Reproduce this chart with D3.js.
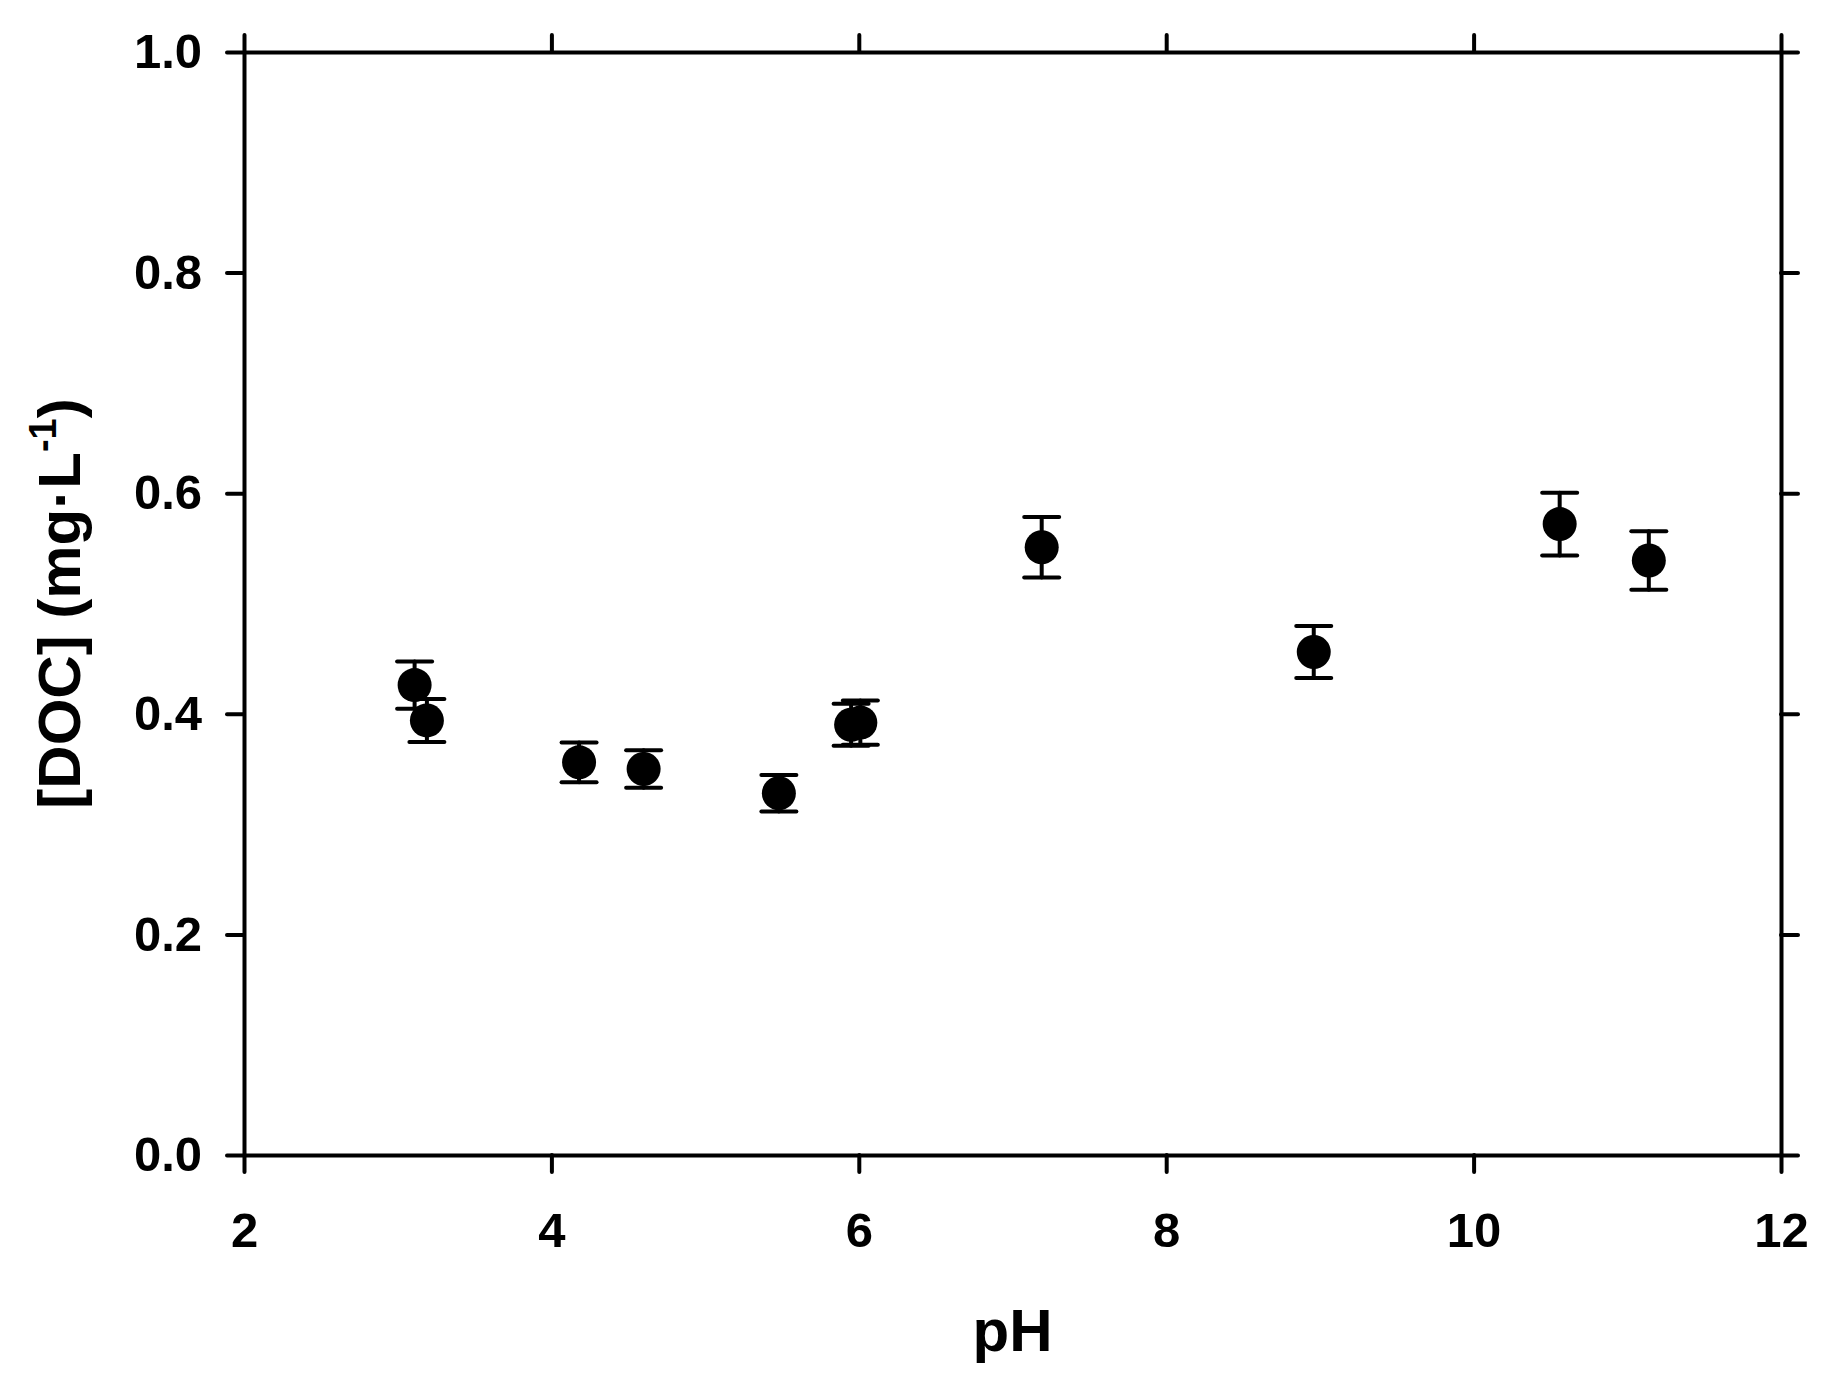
<!DOCTYPE html>
<html>
<head>
<meta charset="utf-8">
<script src="https://cdn.jsdelivr.net/npm/d3@7"></script>
<style>
  body { margin: 0; background: #fff; }
  svg { display: block; font-family: "Liberation Sans", Arial, sans-serif; font-weight: bold; }
  .axis path, .axis line { stroke: #000; stroke-width: 4; }
  .axis text { font-size: 49px; fill: #000; font-weight: bold; }
</style>
</head>
<body>
<svg id="chart" width="1837" height="1394"></svg>
<script>
// pH vs dissolved organic carbon
const phValues = [3.11, 3.19, 4.18, 4.60, 5.48, 5.95, 6.01, 7.19, 8.96, 10.56, 11.14];
const docValues = [0.426, 0.394, 0.356, 0.350, 0.328, 0.390, 0.392, 0.551, 0.456, 0.572, 0.539];
const docErrors = [0.0215, 0.0195, 0.018, 0.017, 0.0165, 0.019, 0.020, 0.0275, 0.0235, 0.0285, 0.0265];

const xTicks = [2, 4, 6, 8, 10, 12];
const yTicks = [0.0, 0.2, 0.4, 0.6, 0.8, 1.0];

const svg = d3.select('#chart');
const margin = { top: 52, right: 56, bottom: 239, left: 244 };
const width = +svg.attr('width') - margin.left - margin.right,
  height = +svg.attr('height') - margin.top - margin.bottom;

const g = svg.append('g')
  .attr('transform', `translate(${margin.left},${margin.top})`);

const x = d3.scaleLinear().domain([2, 12]).range([0, width]);
const y = d3.scaleLinear().domain([0, 1]).range([height, 0]);

const tick = 17;

// Axes on all four sides, ticks pointing outward
g.append('g')
  .attr('class', 'axis')
  .attr('transform', `translate(0,${height})`)
  .call(d3.axisBottom(x).tickValues(xTicks).tickSize(tick).tickSizeOuter(0).tickPadding(40).tickFormat(d3.format('d')));

g.append('g')
  .attr('class', 'axis')
  .call(d3.axisLeft(y).tickValues(yTicks).tickSize(tick).tickSizeOuter(0).tickPadding(25).tickFormat(d3.format('.1f')));

g.append('g')
  .attr('class', 'axis')
  .call(d3.axisTop(x).tickValues(xTicks).tickSize(tick).tickSizeOuter(0).tickFormat(''));

g.append('g')
  .attr('class', 'axis')
  .attr('transform', `translate(${width},0)`)
  .call(d3.axisRight(y).tickValues(yTicks).tickSize(tick).tickSizeOuter(0).tickFormat(''));

svg.selectAll('.axis .tick line').attr('stroke-linecap', 'round');

// Error bars
const pts = phValues.map((p, i) => ({ ph: p, doc: docValues[i], err: docErrors[i] }));
const capHalf = 17.5;

const bars = g.append('g')
  .attr('stroke', '#000')
  .attr('stroke-width', 4)
  .attr('stroke-linecap', 'round');

bars.selectAll('.stem')
  .data(pts)
  .enter()
  .append('line')
  .attr('x1', (d) => x(d.ph))
  .attr('x2', (d) => x(d.ph))
  .attr('y1', (d) => y(d.doc + d.err))
  .attr('y2', (d) => y(d.doc - d.err));

bars.selectAll('.capTop')
  .data(pts)
  .enter()
  .append('line')
  .attr('x1', (d) => x(d.ph) - capHalf)
  .attr('x2', (d) => x(d.ph) + capHalf)
  .attr('y1', (d) => y(d.doc + d.err))
  .attr('y2', (d) => y(d.doc + d.err));

bars.selectAll('.capBot')
  .data(pts)
  .enter()
  .append('line')
  .attr('x1', (d) => x(d.ph) - capHalf)
  .attr('x2', (d) => x(d.ph) + capHalf)
  .attr('y1', (d) => y(d.doc - d.err))
  .attr('y2', (d) => y(d.doc - d.err));

// Points
g.append('g')
  .selectAll('circle')
  .data(pts)
  .enter()
  .append('circle')
  .attr('cx', (d) => x(d.ph))
  .attr('cy', (d) => y(d.doc))
  .attr('r', 17)
  .attr('fill', '#000');

// Axis titles
svg.append('text')
  .attr('x', margin.left + width / 2)
  .attr('y', 1351)
  .attr('text-anchor', 'middle')
  .style('font-size', '60px')
  .text('pH');

const yTitle = svg.append('text')
  .attr('transform', `translate(80, ${margin.top + height / 2}) rotate(-90)`)
  .attr('text-anchor', 'middle')
  .style('font-size', '60px');

yTitle.append('tspan').text('[DOC] (mg\u00B7L');
yTitle.append('tspan').attr('dy', -24).style('font-size', '38px').text('-1');
yTitle.append('tspan').attr('dy', 24).text(')');
</script>
</body>
</html>
